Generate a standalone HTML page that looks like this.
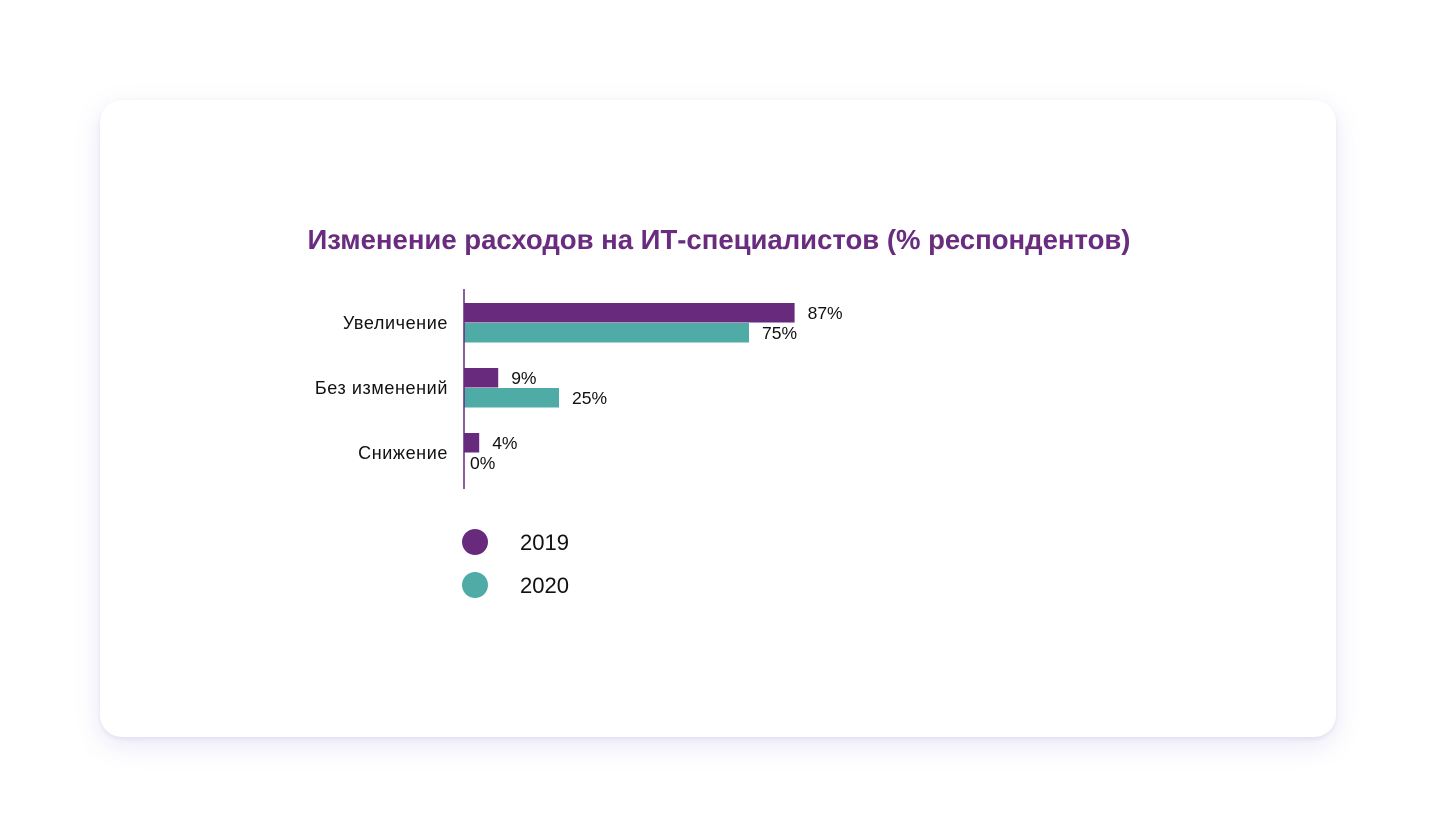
<!DOCTYPE html>
<html><head><meta charset="utf-8">
<style>
html,body{margin:0;padding:0;background:#fff;width:1436px;height:834px;overflow:hidden;font-family:"Liberation Sans",sans-serif;}
#card{position:absolute;left:100px;top:100px;width:1236px;height:637px;background:#fff;border-radius:22px;box-shadow:0 8px 26px rgba(120,110,200,0.16),0 2px 4px rgba(120,110,200,0.12);}
svg{position:absolute;left:0;top:0;}
</style></head><body>
<div id="card"></div>
<svg id="chart" width="1436" height="834">
<text x="719" y="249" text-anchor="middle" font-size="27.5" font-weight="bold" fill="#6a2c7f" font-family="Liberation Sans, sans-serif">Изменение расходов на ИТ-специалистов (% респондентов)</text>
</svg>
<script>
const categories=["Увеличение","Без изменений","Снижение"];
const series2019=[87,9,4];
const series2020=[75,25,0];
const seriesNames=["2019","2020"];
const colors=["#672a7c","#4eaba6"];
const svg=document.getElementById('chart');
const NS='http://www.w3.org/2000/svg';
const x0=464,pxPer=3.8,groupTop=303,groupStep=65,barH=20;
const xs=v=>x0+v*pxPer;
function mk(t,a){const e=document.createElementNS(NS,t);for(const k in a)e.setAttribute(k,a[k]);svg.appendChild(e);return e;}
const data=[series2019,series2020];
categories.forEach((c,i)=>{
  const gy=groupTop+i*groupStep;
  const t=mk('text',{x:448,y:gy+barH+6,'text-anchor':'end','font-size':18,'letter-spacing':0.6,fill:'#111'});
  t.textContent=c;
  
  
  data.forEach((s,j)=>{
    const y=gy+j*barH;
    if(s[i]>0){
      const r=mk('rect',{x:x0,y:y,width:xs(s[i])-x0,height:barH-0.5,fill:colors[j]});
      
      
    }
    const l=mk('text',{x:s[i]>0?xs(s[i])+13:x0+6,y:y+16,'font-size':17.5,fill:'#111'});
    l.textContent=s[i]+'%';
    
    
  });
});
const ax=mk('line',{x1:x0,y1:289,x2:x0,y2:489,stroke:'#672a7c','stroke-width':1.5});


seriesNames.forEach((n,j)=>{
  const cy=542+j*43;
  const c=mk('circle',{cx:475,cy:cy,r:13,fill:colors[j]});
  
  
  const t=mk('text',{x:520,y:cy+8,'font-size':22,fill:'#111'});
  t.textContent=n;
  
  
});
</script>
</body></html>
